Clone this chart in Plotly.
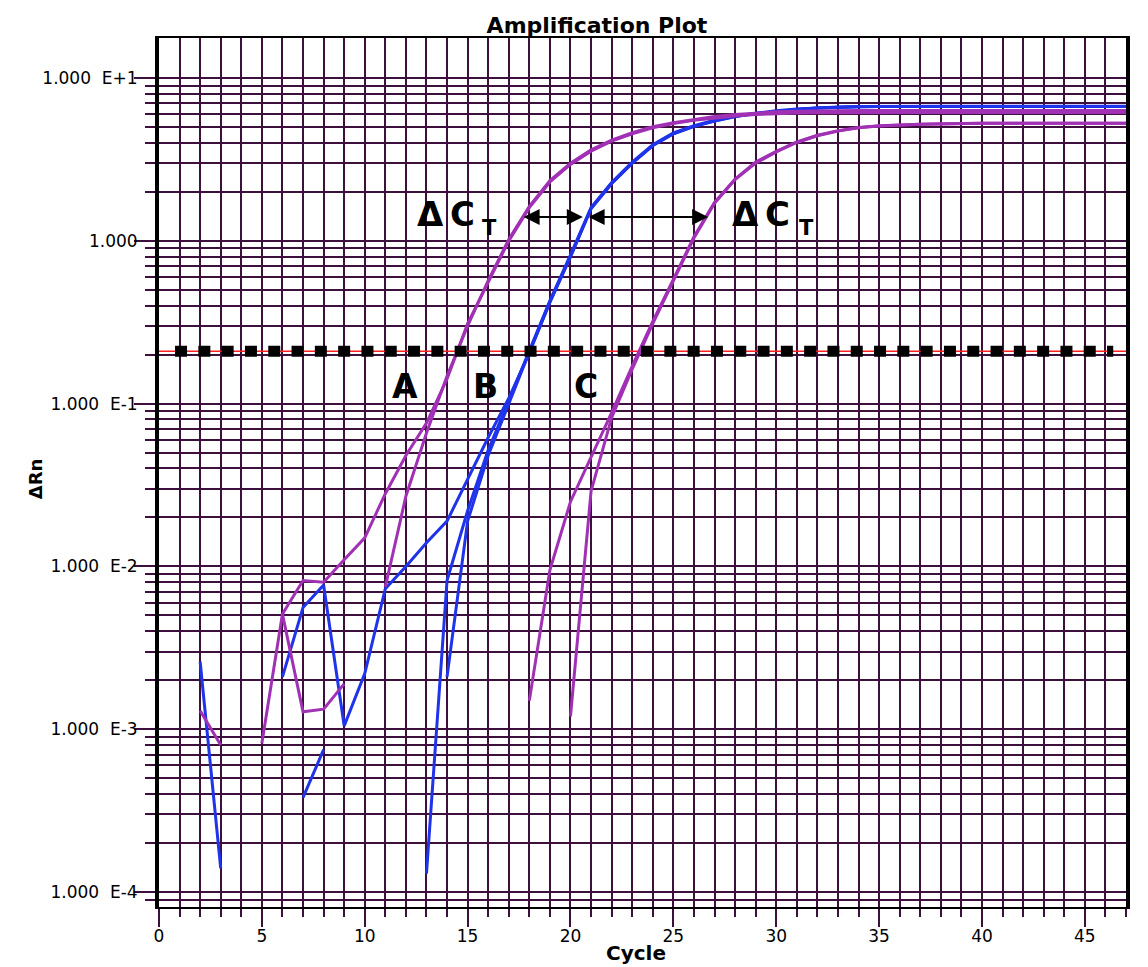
import math
import plotly.graph_objects as go

# ---------------- data ----------------
# Sample B (blue) replicates
B_STRAY1_CYCLES = [2, 3]
B_STRAY1_VALUES = [0.0026, 0.00014]
B_STRAY2_CYCLES = [7, 8]
B_STRAY2_VALUES = [0.00038, 0.00075]

B1_CYCLES = list(range(6, 48))
B1_VALUES = [0.0021, 0.0056, 0.0077, 0.00105, 0.0022, 0.0073, 0.0100, 0.0140, 0.0190, 0.034,
             0.062, 0.108, 0.205, 0.42, 0.80, 1.58, 2.25, 3.0, 3.85, 4.55,
             5.05, 5.45, 5.8, 6.05, 6.25, 6.42, 6.55, 6.62, 6.66, 6.68,
             6.68, 6.68, 6.68, 6.68, 6.68, 6.68, 6.68, 6.68, 6.68, 6.68,
             6.68, 6.68]

B2_CYCLES = list(range(13, 48))
B2_VALUES = [0.00013, 0.0082, 0.022, 0.052, 0.104, 0.21, 0.43, 0.82, 1.60, 2.28,
             3.05, 3.9, 4.6, 5.1, 5.5, 5.85, 6.1, 6.3, 6.46, 6.58,
             6.64, 6.68, 6.70, 6.70, 6.70, 6.70, 6.70, 6.70, 6.70, 6.70,
             6.70, 6.70, 6.70, 6.70, 6.70]

B3_CYCLES = list(range(14, 48))
B3_VALUES = [0.0021, 0.019, 0.048, 0.100, 0.208, 0.42, 0.80, 1.58, 2.25, 3.0,
             3.85, 4.55, 5.05, 5.45, 5.8, 6.05, 6.25, 6.42, 6.55, 6.62,
             6.66, 6.68, 6.68, 6.68, 6.68, 6.68, 6.68, 6.68, 6.68, 6.68,
             6.68, 6.68, 6.68, 6.68]

# Sample A (purple) replicates
A1_CYCLES = list(range(5, 48))
A1_VALUES = [0.00082, 0.0051, 0.0082, 0.0080, 0.0110, 0.0150, 0.028, 0.048, 0.076, 0.142,
             0.31, 0.56, 1.0, 1.6, 2.3, 2.95, 3.55, 4.1, 4.55, 4.95,
             5.25, 5.5, 5.7, 5.85, 5.97, 6.05, 6.1, 6.12, 6.14, 6.14,
             6.14, 6.14, 6.14, 6.14, 6.14, 6.14, 6.14, 6.14, 6.14, 6.14,
             6.14, 6.14, 6.14]

A2_CYCLES = list(range(2, 48))
A2_VALUES = [0.0013, 0.0008, None, None, 0.0051, 0.00128, 0.00133, 0.0019, None, 0.0075,
             0.027, 0.066, 0.148, 0.30, 0.57, 1.02, 1.63, 2.35, 3.0, 3.62,
             4.15, 4.62, 5.02, 5.32, 5.57, 5.8, 5.97, 6.1, 6.2, 6.26,
             6.3, 6.32, 6.32, 6.32, 6.32, 6.32, 6.32, 6.32, 6.32, 6.32,
             6.32, 6.32, 6.32, 6.32, 6.32, 6.32]

# Sample C (purple) replicates
C1_CYCLES = list(range(18, 48))
C1_VALUES = [0.0015, 0.0095, 0.025, 0.047, 0.088, 0.17, 0.32, 0.58, 1.06, 1.72,
             2.4, 3.05, 3.55, 4.05, 4.45, 4.75, 4.97, 5.1, 5.17, 5.21,
             5.24, 5.28, 5.28, 5.28, 5.28, 5.28, 5.28, 5.28, 5.28, 5.28]

C2_CYCLES = list(range(20, 48))
C2_VALUES = [0.0012, 0.029, 0.082, 0.163, 0.31, 0.57, 1.04, 1.7, 2.38, 3.0,
             3.52, 4.02, 4.42, 4.72, 4.95, 5.08, 5.16, 5.2, 5.23, 5.27,
             5.27, 5.27, 5.27, 5.27, 5.27, 5.27, 5.27, 5.27]

THRESHOLD = 0.21
THRESHOLD_LINE_CYCLES = [0, 47]
THRESHOLD_DOTS_CYCLES = [0.78, 46.38]

X_TICKS = [0, 5, 10, 15, 20, 25, 30, 35, 40, 45]
Y_TICKS = [1e-4, 1e-3, 1e-2, 1e-1, 1, 10]
Y_TICK_TEXT = ["1.000\u00a0 E-4", "1.000\u00a0 E-3", "1.000\u00a0 E-2",
               "1.000\u00a0 E-1", "1.000", "1.000\u00a0 E+1"]

# annotation content
SAMPLE_LABELS = ["A", "B", "C"]
SAMPLE_LABEL_X = [11.95, 15.85, 20.75]
SAMPLE_LABEL_Y = 0.128
DCT_ARROW_Y = 1.40
DCT_ARROWS = [(17.65, 20.6), (20.81, 26.69)]
DCT_LABEL_X = [12.45, 27.75]
DCT_SUB_X = [15.6, 31.0]

# ---------------- styling ----------------
FONT = "DejaVu Sans"
GRID = "#3c0f3c"
PURPLE = "#A131B4"
BLUE = "#1F33EA"
Y_LO, Y_HI = math.log10(8.1e-5), 1.246

Y_MINOR = []
for e in range(-5, 2):
    for k in range(2, 10):
        v = k * 10 ** e
        if Y_LO <= math.log10(v) <= Y_HI:
            Y_MINOR.append(v)

fig = go.Figure()

# threshold (thin red line underneath)
fig.add_trace(go.Scatter(x=THRESHOLD_LINE_CYCLES, y=[THRESHOLD, THRESHOLD], mode="lines",
                         line=dict(color="#ff2020", width=1.5), hoverinfo="skip"))


def add_line(cx, cy, color):
    fig.add_trace(go.Scatter(x=cx, y=cy, mode="lines", connectgaps=False,
                             line=dict(color=color, width=3), hoverinfo="skip"))


add_line(B_STRAY1_CYCLES, B_STRAY1_VALUES, BLUE)
add_line(B_STRAY2_CYCLES, B_STRAY2_VALUES, BLUE)
add_line(B1_CYCLES, B1_VALUES, BLUE)
add_line(B2_CYCLES, B2_VALUES, BLUE)
add_line(B3_CYCLES, B3_VALUES, BLUE)
add_line(A1_CYCLES, A1_VALUES, PURPLE)
add_line(A2_CYCLES, A2_VALUES, PURPLE)
add_line(C1_CYCLES, C1_VALUES, PURPLE)
add_line(C2_CYCLES, C2_VALUES, PURPLE)

# threshold (black square dots on top)
fig.add_trace(go.Scatter(x=THRESHOLD_DOTS_CYCLES, y=[THRESHOLD, THRESHOLD], mode="lines",
                         line=dict(color="black", width=11, dash="12px,11.3px"),
                         hoverinfo="skip"))

annotations = []
for lab, lx in zip(SAMPLE_LABELS, SAMPLE_LABEL_X):
    annotations.append(dict(x=lx, y=math.log10(SAMPLE_LABEL_Y), xref="x", yref="y",
                            text=lab, showarrow=False,
                            font=dict(family=FONT, size=33, color="black", weight="bold")))
for (x0, x1) in DCT_ARROWS:
    annotations.append(dict(x=x1, y=math.log10(DCT_ARROW_Y), ax=x0, ay=math.log10(DCT_ARROW_Y),
                            xref="x", yref="y", axref="x", ayref="y", text="",
                            showarrow=True, arrowhead=2, startarrowhead=2, arrowside="end+start",
                            arrowsize=1.6, startarrowsize=1.6, arrowwidth=2, arrowcolor="black",
                            standoff=0, startstandoff=0))
for lx, sx in zip(DCT_LABEL_X, DCT_SUB_X):
    annotations.append(dict(x=lx, y=0.165, xref="x", yref="y", xanchor="left", yanchor="middle",
                            text="Δ\u2009C", showarrow=False,
                            font=dict(family=FONT, size=34, color="black", weight="bold")))
    annotations.append(dict(x=sx, y=0.078, xref="x", yref="y", xanchor="left", yanchor="middle",
                            text="T", showarrow=False,
                            font=dict(family=FONT, size=21, color="black", weight="bold")))
# axis titles
annotations.append(dict(x=-0.128, y=(907 - 479) / 869, xref="paper", yref="paper",
                        text="ΔRn", textangle=-90, showarrow=False,
                        xanchor="center", yanchor="middle",
                        font=dict(family=FONT, size=18, color="black", weight="bold")))
annotations.append(dict(x=(636 - 159) / 967, y=-(953 - 907) / 869, xref="paper", yref="paper",
                        text="Cycle", showarrow=False, xanchor="center", yanchor="middle",
                        font=dict(family=FONT, size=20, color="black", weight="bold")))

fig.update_layout(
    width=1148, height=967,
    margin=dict(l=159, r=22, t=38, b=60),
    paper_bgcolor="white", plot_bgcolor="white", showlegend=False,
    title=dict(text="Amplification Plot", x=(597 - 159) / 967, xref="paper", xanchor="center",
               y=1 - 25 / 967, yref="container", yanchor="middle",
               font=dict(family=FONT, size=22, color="black", weight="bold")),
    annotations=annotations,
)

fig.update_xaxes(range=[0, 47], tickmode="array", tickvals=X_TICKS, ticks="outside", ticklen=18,
                 tickwidth=2, tickcolor=GRID, showgrid=True, gridcolor=GRID, gridwidth=2,
                 ticklabelstandoff=-5,
                 minor=dict(tickmode="linear", tick0=0, dtick=1, ticks="outside", ticklen=8,
                            tickwidth=2, tickcolor=GRID, showgrid=True, gridcolor=GRID, gridwidth=2),
                 showline=True, linecolor="black", linewidth=2, mirror=True, zeroline=False,
                 tickfont=dict(family=FONT, size=17, color="black"))
fig.update_yaxes(type="log", range=[Y_LO, Y_HI], tickmode="array", tickvals=Y_TICKS,
                 ticktext=Y_TICK_TEXT, ticks="outside", ticklen=21, tickwidth=2, tickcolor=GRID,
                 showgrid=True, gridcolor=GRID, gridwidth=2, ticklabelstandoff=-7,
                 minor=dict(tickmode="array", tickvals=Y_MINOR, ticks="outside", ticklen=10,
                            tickwidth=2, tickcolor=GRID, showgrid=True, gridcolor=GRID, gridwidth=2),
                 showline=True, linecolor="black", linewidth=4, mirror=True, zeroline=False,
                 tickfont=dict(family=FONT, size=17, color="black"))

fig.write_html("out.html")
